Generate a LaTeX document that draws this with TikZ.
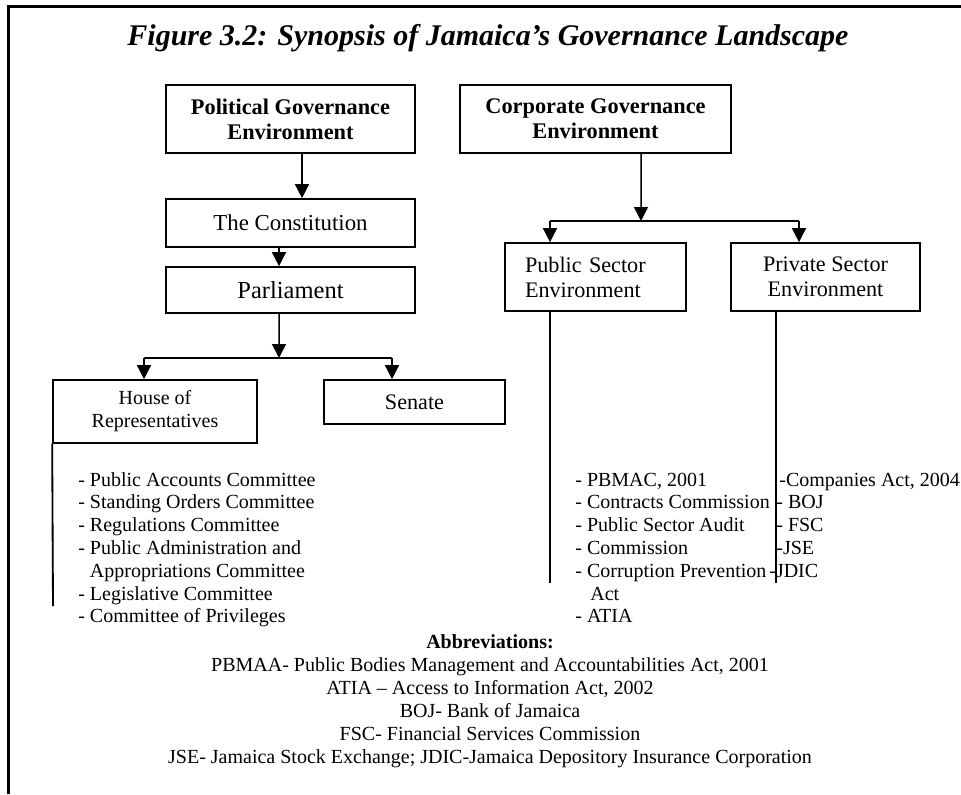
\documentclass[tikz,border=0pt]{standalone}
\usepackage{fontspec}
\setmainfont{Liberation Serif}
\usetikzlibrary{arrows.meta}

\begin{document}
\begin{tikzpicture}[x=0.6pt,y=-0.6pt]
\tikzstyle{gov box}=[draw,line width=1pt,align=center,inner sep=0pt]
\tikzstyle{head box}=[gov box,font=\fontsize{13.4}{15}\selectfont\bfseries]
\tikzstyle{link}=[line width=0.9pt]
\tikzstyle{arr}=[link,-{Triangle[width=8.4pt,length=8.4pt]}]
\tikzstyle{item}=[anchor=base west,inner sep=0pt,font=\fontsize{12}{13.6}\selectfont]
\tikzstyle{abbr}=[anchor=base,inner sep=0pt,font=\fontsize{12}{13.6}\selectfont]

\useasboundingbox (0,0) rectangle (961,794);
% frame
\draw[line width=1.8pt] (8.5,794) -- (8.5,6.5) -- (961,6.5);

% title
\node[anchor=base,inner sep=0pt,font=\fontsize{18}{20}\selectfont\bfseries\itshape] (title) at (488,45)
    {Figure 3.2: Synopsis of Jamaica's Governance Landscape};

% two environments
\node[head box,minimum width=149.4pt,minimum height=40.8pt] (pol) at (290.5,119) {Political Governance\\Environment};
\node[head box,minimum width=162.6pt,minimum height=40.8pt] (corp) at (595.5,119) {Corporate Governance\\Environment};

% political side
\node[gov box,minimum width=149.4pt,minimum height=28.8pt,font=\fontsize{13.7}{15}\selectfont] (cons) at (290.5,223) {The Constitution};
\node[gov box,minimum width=149.4pt,minimum height=27.6pt,font=\fontsize{14.7}{16}\selectfont] (parl) at (290.5,290) {Parliament};
\node[gov box,minimum width=122.4pt,minimum height=37.8pt,font=\fontsize{12}{13.8}\selectfont] (house) at (155,411.5) {House of\\Representatives};
\node[gov box,minimum width=108.6pt,minimum height=26.4pt,font=\fontsize{13.3}{15}\selectfont] (senate) at (414.5,402) {Senate};

\draw[arr] ([xshift=6.9pt]pol.south) -- ([xshift=6.9pt]cons.north);
\draw[arr] ([xshift=-6.9pt]cons.south) -- ([xshift=-6.9pt]parl.north);
\coordinate (pj) at (279,358);
\coordinate (hl) at (144,358);
\coordinate (hr) at (392,358);
\draw[arr] ([xshift=-6.9pt]parl.south) -- (pj);
\draw[link] (hl) -- (hr);
\draw[arr] (hl) -- (hl |- house.north);
\draw[arr] (hr) -- (hr |- senate.north);

% committees of the house
\coordinate (houseend) at (53,606);
\draw[link,line width=1.1pt] (house.south west) -- (houseend);
\foreach \txt [count=\i] in {- Public Accounts Committee,- Standing Orders Committee,- Regulations Committee,
    - Public Administration and,\hphantom{-}\ Appropriations Committee,- Legislative Committee,- Committee of Privileges}
    \node[item] (com\i) at (78,{486+22.8*(\i-1)}) {\txt};

% corporate side
\node[gov box,align=left,text width=84.6pt,inner xsep=12pt,minimum height=40.8pt,font=\fontsize{13.3}{15}\selectfont] (pub) at (595.5,277) {Public Sector\\Environment};
\node[gov box,minimum width=113.4pt,minimum height=40.8pt,font=\fontsize{13.3}{15}\selectfont] (priv) at (825.5,277) {Private Sector\\Environment};

\coordinate (cj) at (641,221);
\coordinate (pl) at (550,221);
\coordinate (pr) at (799,221);
\draw[arr] ([xshift=27.3pt]corp.south) -- (cj);
\draw[link] (pl) -- (pr);
\draw[arr] (pl) -- (pl |- pub.north);
\draw[arr] (pr) -- (pr |- priv.north);

\coordinate (pubend) at (550,583);
\coordinate (privend) at (776,583);
\draw[link,line width=1.1pt] (pubend |- pub.south) -- (pubend);
\draw[link,line width=1.1pt] (privend |- priv.south) -- (privend);

\foreach \txt [count=\i] in {- PBMAC{,} 2001,- Contracts Commission,- Public Sector Audit,- Commission,
    - Corruption Prevention,\hspace{9pt}Act,- ATIA}
    \node[item] (pubitem\i) at (575,{486+22.8*(\i-1)}) {\txt};

\foreach \xx/\txt [count=\i] in {779/-Companies Act{,} 2004,776/- BOJ,776/- FSC,776/-JSE,769/-JDIC}
    \node[item] (privitem\i) at (\xx,{486+22.8*(\i-1)}) {\txt};

% abbreviations
\node[abbr,font=\fontsize{12}{13.6}\selectfont\bfseries] (abbrhead) at (490,648) {Abbreviations:};
\foreach \txt [count=\i] in {PBMAA- Public Bodies Management and Accountabilities Act{,} 2001,
    ATIA -- Access to Information Act{,} 2002,BOJ- Bank of Jamaica,FSC- Financial Services Commission,
    JSE- Jamaica Stock Exchange; JDIC-Jamaica Depository Insurance Corporation}
    \node[abbr] (abbr\i) at (490,{648+23.1*\i}) {\txt};

\end{tikzpicture}
\end{document}
